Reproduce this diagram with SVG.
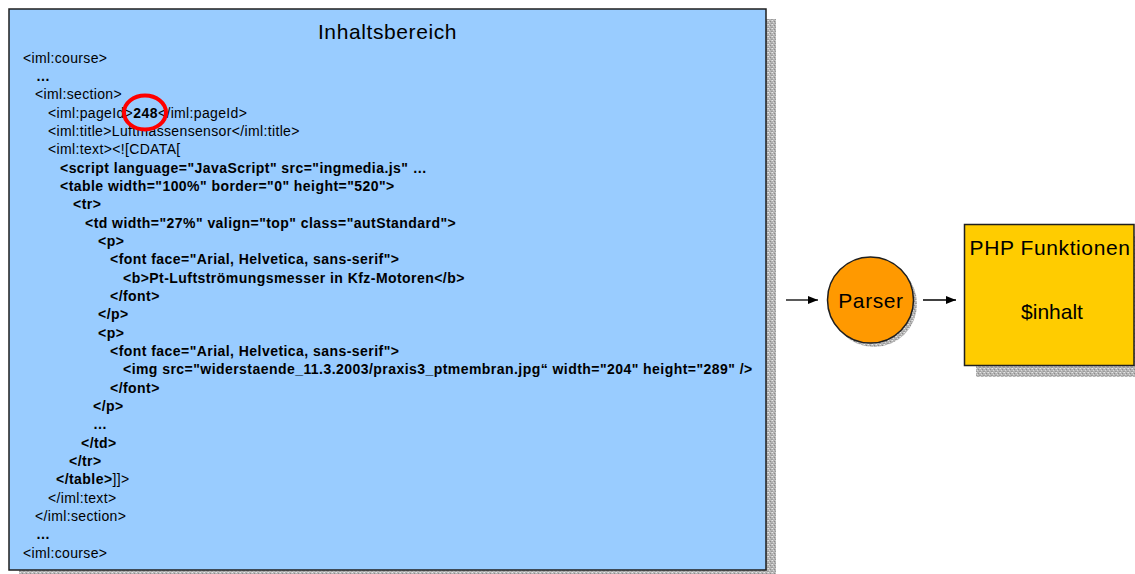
<svg xmlns="http://www.w3.org/2000/svg" width="1135" height="574" viewBox="0 0 1135 574">
  <defs>
    <!-- grainy gray fill used for drop shadows -->
    <pattern id="stipple" width="4" height="4" patternUnits="userSpaceOnUse">
      <rect width="4" height="4" fill="#b4b4b4"/>
      <rect x="0" y="0" width="1" height="1" fill="#e6e6e6"/>
      <rect x="2" y="1" width="1" height="1" fill="#8c8c8c"/>
      <rect x="1" y="2" width="1" height="1" fill="#d8d8d8"/>
      <rect x="3" y="3" width="1" height="1" fill="#9a9a9a"/>
      <rect x="3" y="0" width="1" height="1" fill="#cfcfcf"/>
      <rect x="0" y="3" width="1" height="1" fill="#a0a0a0"/>
    </pattern>
    <marker id="arrow" viewBox="0 0 10 10" refX="10" refY="5" markerWidth="10" markerHeight="10" markerUnits="userSpaceOnUse" orient="auto">
      <path d="M0,1 L10,5 L0,9 Z" fill="#000"/>
    </marker>
    <style>
      .shadow { fill: url(#stipple); }
      .frame { stroke: #1f1f1f; stroke-width: 1.5; }
      .title { font-family: "Liberation Sans", Arial, sans-serif; font-size: 21px; fill: #000; letter-spacing: 0.6px; }
      .code { font-family: "Liberation Sans", Arial, sans-serif; font-size: 14px; fill: #000; letter-spacing: 0.35px; }
      .b { font-weight: bold; letter-spacing: 0.45px; }
      .conn { stroke: #000; stroke-width: 1.3; fill: none; marker-end: url(#arrow); }
    </style>
  </defs>

  <rect width="1135" height="574" fill="#fff"/>

  <!-- content area with source listing -->
  <g id="inhaltsbereich">
    <rect class="shadow" x="19" y="19" width="757" height="561"/>
    <rect class="frame" x="9" y="9" width="757" height="561" fill="#99ccff"/>
    <text class="title" x="387.5" y="38.5" text-anchor="middle">Inhaltsbereich</text>
    <g class="code">
      <text x="23" y="62.5">&lt;iml:course&gt;</text>
      <text x="36" y="80.8" class="b">…</text>
      <text x="35" y="99.2">&lt;iml:section&gt;</text>
      <text x="48" y="117.5">&lt;iml:pageId&gt;<tspan class="b">248</tspan>&lt;/iml:pageId&gt;</text>
      <text x="48" y="135.8">&lt;iml:title&gt;Luftmassensensor&lt;/iml:title&gt;</text>
      <text x="48" y="154.2">&lt;iml:text&gt;&lt;![CDATA[</text>
      <text x="60" y="172.5" class="b">&lt;script language="JavaScript" src="ingmedia.js" …</text>
      <text x="60" y="190.8" class="b">&lt;table width="100%" border="0" height="520"&gt;</text>
      <text x="73" y="209.2" class="b">&lt;tr&gt;</text>
      <text x="85" y="227.5" class="b">&lt;td width="27%" valign="top" class="autStandard"&gt;</text>
      <text x="98" y="245.8" class="b">&lt;p&gt;</text>
      <text x="110" y="264.2" class="b">&lt;font face="Arial, Helvetica, sans-serif"&gt;</text>
      <text x="123" y="282.5" class="b">&lt;b&gt;Pt-Luftströmungsmesser in Kfz-Motoren&lt;/b&gt;</text>
      <text x="110" y="300.8" class="b">&lt;/font&gt;</text>
      <text x="98" y="319.2" class="b">&lt;/p&gt;</text>
      <text x="98" y="337.5" class="b">&lt;p&gt;</text>
      <text x="110" y="355.8" class="b">&lt;font face="Arial, Helvetica, sans-serif"&gt;</text>
      <text x="123" y="374.2" class="b">&lt;img src="widerstaende_11.3.2003/praxis3_ptmembran.jpg“ width="204" height="289" /&gt;</text>
      <text x="110" y="392.5" class="b">&lt;/font&gt;</text>
      <text x="93" y="410.8" class="b">&lt;/p&gt;</text>
      <text x="93" y="429.2" class="b">…</text>
      <text x="81" y="447.5" class="b">&lt;/td&gt;</text>
      <text x="69" y="465.8" class="b">&lt;/tr&gt;</text>
      <text x="56" y="484.2"><tspan class="b">&lt;/table&gt;</tspan>]]&gt;</text>
      <text x="48" y="502.5">&lt;/iml:text&gt;</text>
      <text x="35" y="520.8">&lt;/iml:section&gt;</text>
      <text x="36" y="539.2" class="b">…</text>
      <text x="23" y="557.5">&lt;iml:course&gt;</text>
    </g>
    <!-- highlight on the page id -->
    <ellipse cx="145" cy="112.5" rx="21" ry="17" fill="none" stroke="#ff0000" stroke-width="4"/>
  </g>

  <!-- parser -->
  <g id="parser">
    <circle class="shadow" cx="874" cy="304" r="43"/>
    <circle class="frame" cx="870.5" cy="300" r="43" fill="#ff9900"/>
    <text class="title" x="871" y="308" text-anchor="middle">Parser</text>
  </g>

  <!-- PHP functions -->
  <g id="php">
    <rect class="shadow" x="976" y="236" width="170" height="141"/>
    <rect class="frame" x="964.5" y="224.5" width="169.5" height="141" fill="#ffcc00"/>
    <text class="title" x="1050" y="255" text-anchor="middle">PHP Funktionen</text>
    <text class="title" x="1052" y="319" text-anchor="middle" style="letter-spacing:0">$inhalt</text>
  </g>

  <g id="connectors">
    <line class="conn" x1="786" y1="300" x2="818" y2="300"/>
    <line class="conn" x1="923" y1="300" x2="956" y2="300"/>
  </g>
</svg>
